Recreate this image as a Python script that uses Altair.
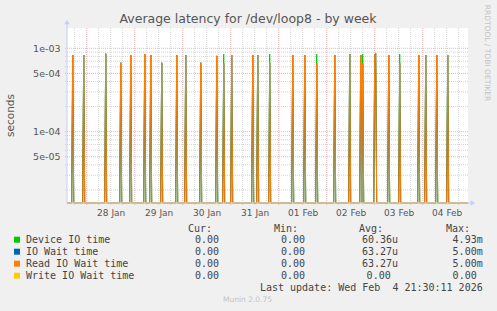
import altair as alt
import pandas as pd

# ---------------- data ----------------
title_text = "Average latency for /dev/loop8 - by week"
y_axis_title = "seconds"
side_text = "RRDTOOL / TOBI OETIKER"
footer_text = "Munin 2.0.75"
last_update = "Last update: Wed Feb \u00a04 21:30:11 2026"

# x in hours relative to 28 Jan 00:00
x_start, x_end = -9.85, 190.65
day_labels = ["28 Jan", "29 Jan", "30 Jan", "31 Jan", "01 Feb", "02 Feb", "03 Feb", "04 Feb"]
day_label_hours = [12, 36, 60, 84, 108, 132, 156, 180]
midnight_hours = [0, 24, 48, 72, 96, 120, 144, 168]
six_hour_hours = [-6, 6, 12, 18, 30, 36, 42, 54, 60, 66, 78, 84, 90, 102, 108, 114,
                  126, 132, 138, 150, 156, 162, 174, 180, 186]

y_min, y_max = 1.396e-5, 1.751e-3
y_tick_values = [5e-5, 1e-4, 5e-4, 1e-3]
y_tick_labels = ["5e-05", "1e-04", "5e-04", "1e-03"]
y_minor_values = [2e-5, 3e-5, 4e-5, 6e-5, 7e-5, 8e-5, 9e-5,
                  2e-4, 3e-4, 4e-4, 6e-4, 7e-4, 8e-4, 9e-4]

spike_hours = [-7.0, -1.5, 9.5, 17.0, 22.0, 29.0, 32.0, 37.5, 45.0, 49.5, 57.0, 65.0,
               68.5, 72.5, 83.0, 85.5, 91.5, 103.0, 109.0, 115.0, 124.0, 131.5, 137.0,
               138.0, 144.0, 144.5, 151.0, 156.5, 166.0, 169.5, 175.0, 180.5]
read_peaks = [8.3e-4, 8.3e-4, 8.6e-4, 6.7e-4, 8.3e-4, 8.5e-4, 8.3e-4, 6.7e-4, 8.3e-4, 8.3e-4,
              6.7e-4, 8.1e-4, 6.6e-4, 8.3e-4, 8.3e-4, 8.3e-4, 6.6e-4, 8.3e-4, 8.3e-4, 6.6e-4,
              8.3e-4, 8.5e-4, 8.3e-4, 6.6e-4, 8.3e-4, 8.7e-4, 8.3e-4, 6.6e-4, 8.3e-4, 8.3e-4,
              8.3e-4, 8.3e-4]
wait_peaks = list(read_peaks)
device_peaks = [8.3e-4, 8.3e-4, 8.6e-4, 6.7e-4, 8.3e-4, 8.5e-4, 8.3e-4, 6.7e-4, 8.3e-4, 8.3e-4,
                6.7e-4, 8.1e-4, 8.5e-4, 8.3e-4, 8.3e-4, 8.3e-4, 8.5e-4, 8.3e-4, 8.3e-4, 8.5e-4,
                8.3e-4, 8.5e-4, 8.3e-4, 8.5e-4, 8.3e-4, 8.7e-4, 8.3e-4, 8.5e-4, 8.3e-4, 8.3e-4,
                8.3e-4, 8.3e-4]
write_peaks = [0.0] * len(spike_hours)

series_names = ["Device IO time", "IO Wait time", "Read IO Wait time", "Write IO Wait time"]
series_colors = ["#00cc00", "#0066b3", "#ff8000", "#ffcc00"]
cur_vals = ["0.00", "0.00", "0.00", "0.00"]
min_vals = ["0.00", "0.00", "0.00", "0.00"]
avg_vals = ["60.36u", "63.27u", "63.27u", "0.00"]
max_vals = ["4.93m", "5.00m", "5.00m", "0.00"]

# ---------------- layout ----------------
W, H = 401, 175
OX, OY = 67, 28  # plot origin in page pixels


def series_frame(peaks):
    pts = {x_start: 0.0, x_end: 0.0}
    for h in spike_hours:
        pts.setdefault(h - 0.5, 0.0)
        pts.setdefault(h + 0.5, 0.0)
    for h, v in zip(spike_hours, peaks):
        pts[h] = v
    hs = sorted(pts)
    return pd.DataFrame({"h": hs, "value": [pts[h] for h in hs]})


xscale = alt.Scale(domain=[x_start, x_end], nice=False, zero=False)
yscale = alt.Scale(type="log", domain=[y_min, y_max], nice=False, clamp=True)
one = pd.DataFrame({"a": [0]})

label_expr_x = "[" + ",".join("'%s'" % s for s in day_labels) + "][floor(datum.value/24)]"
label_expr_y = ""
for v, s in zip(y_tick_values, y_tick_labels):
    label_expr_y += "abs(datum.value-%g)<%g ? '%s' : " % (v, v * 1e-6, s)
label_expr_y += "''"

grid_gray = "#d4d4d4"
grid_red = "#e8b4b4"

x_axis = alt.Axis(values=day_label_hours, labelExpr=label_expr_x, grid=False, ticks=False,
                  domain=False, title=None, labelFont="DejaVu Sans", labelFontSize=9,
                  labelColor="#555555", labelPadding=5)
y_axis = alt.Axis(values=y_tick_values, labelExpr=label_expr_y, grid=False, ticks=False,
                  domain=False, title=None, labelFont="DejaVu Sans", labelFontSize=9.5,
                  labelColor="#555555", labelPadding=7)

vminor = alt.Chart(pd.DataFrame({"h": six_hour_hours})).mark_rule(
    color=grid_gray, strokeDash=[1, 1], strokeWidth=1
).encode(x=alt.X("h:Q", scale=xscale, axis=x_axis), y=alt.value(0), y2=alt.value(H + 2))

vmajor = alt.Chart(pd.DataFrame({"h": midnight_hours})).mark_rule(
    color=grid_red, strokeDash=[1, 1], strokeWidth=1
).encode(x=alt.X("h:Q", scale=xscale, axis=x_axis), y=alt.value(0), y2=alt.value(H + 2))

hminor = alt.Chart(pd.DataFrame({"v": y_minor_values})).mark_rule(
    color=grid_gray, strokeDash=[1, 1], strokeWidth=1
).encode(y=alt.Y("v:Q", scale=yscale, axis=y_axis), x=alt.value(-2), x2=alt.value(W))

hmajor = alt.Chart(pd.DataFrame({"v": y_tick_values})).mark_rule(
    color=grid_red, strokeDash=[1, 1], strokeWidth=1
).encode(y=alt.Y("v:Q", scale=yscale, axis=y_axis), x=alt.value(-2), x2=alt.value(W))


def line_layer(peaks, color):
    return alt.Chart(series_frame(peaks)).transform_calculate(
        v="max(datum.value, 1e-9)"
    ).mark_line(color=color, strokeWidth=1, interpolate="linear").encode(
        x=alt.X("h:Q", scale=xscale, axis=x_axis),
        y=alt.Y("v:Q", scale=yscale, axis=y_axis),
    )


lines = [line_layer(p, c) for p, c in
         zip([device_peaks, wait_peaks, read_peaks, write_peaks], series_colors)]

arrow_color = "#c8ccf8"
xline = alt.Chart(one).mark_rule(color=arrow_color, strokeWidth=1).encode(
    x=alt.value(0), x2=alt.value(W + 3), y=alt.value(H))
xarrow = alt.Chart(one).mark_point(shape="triangle-right", filled=True, size=28,
                                   color=arrow_color, opacity=1).encode(
    x=alt.value(W + 5), y=alt.value(H))
yline = alt.Chart(one).mark_rule(color=arrow_color, strokeWidth=1).encode(
    x=alt.value(0), y=alt.value(H), y2=alt.value(-4))
yarrow = alt.Chart(one).mark_point(shape="triangle-up", filled=True, size=28,
                                   color=arrow_color, opacity=1).encode(
    x=alt.value(0), y=alt.value(-6))


def txt(text, px, py, size=10, align="left", color="#444444", font="DejaVu Sans Mono",
        angle=0):
    kw = dict(align=align, baseline="middle", fontSize=size, font=font, color=color)
    if angle:
        kw["angle"] = angle
    return alt.Chart(one).mark_text(**kw).encode(
        x=alt.value(px - OX), y=alt.value(py - OY), text=alt.value(text))


texts = [
    txt(title_text, 248, 19, size=12.5, align="center", color="#555555", font="DejaVu Sans"),
    txt(y_axis_title, 11, 115.5, size=10.5, align="center", color="#555555",
        font="DejaVu Sans", angle=270),
    txt(side_text, 487, 53, size=7.5, align="center", color="#c4c4c4",
        font="DejaVu Sans", angle=90),
    txt("Cur:", 212, 229, align="right"),
    txt("Min:", 298, 229, align="right"),
    txt("Avg:", 383, 229, align="right"),
    txt("Max:", 470, 229, align="right"),
    txt(last_update, 482.7, 287.7, align="right"),
    txt(footer_text, 247.5, 300, size=7.5, align="center", color="#c4c4c4",
        font="DejaVu Sans"),
]
row_y = [239.7, 251.7, 263.7, 275.7]
squares = []
for i, name in enumerate(series_names):
    y = row_y[i]
    squares.append(alt.Chart(one).mark_square(size=36, filled=True, opacity=1,
                                              color=series_colors[i]).encode(
        x=alt.value(17 - OX), y=alt.value(y - OY)))
    texts.append(txt(name, 26, y))
    texts.append(txt(cur_vals[i], 219, y, align="right"))
    texts.append(txt(min_vals[i], 305, y, align="right"))
    avg_end = 398 if avg_vals[i] != "0.00" else 390.7
    max_end = 482.7 if max_vals[i] != "0.00" else 476.7
    texts.append(txt(avg_vals[i], avg_end, y, align="right"))
    texts.append(txt(max_vals[i], max_end, y, align="right"))

chart = alt.layer(
    vminor, vmajor, hminor, hmajor, *lines, xline, xarrow, yline, yarrow, *squares, *texts
).properties(
    width=W, height=H,
    autosize=alt.AutoSizeParams(type="none"),
    padding={"left": OX, "top": OY, "right": 497 - OX - W, "bottom": 311 - OY - H},
    background="#f0f0f0",
).configure_view(stroke=None, fill="white")

chart.save("out.html", embed_options={"renderer": "svg", "actions": False})
